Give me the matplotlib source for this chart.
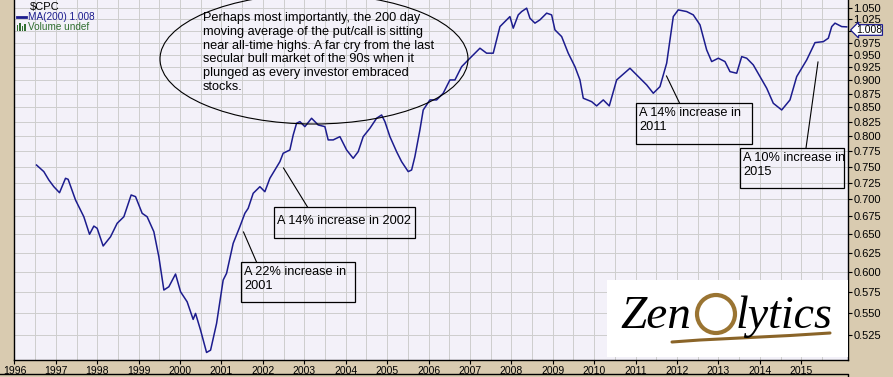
import matplotlib
matplotlib.use("Agg")
import matplotlib.pyplot as plt
from matplotlib.patches import Ellipse, Rectangle
from matplotlib.lines import Line2D
import numpy as np

# ---- data (decimal year, 200-day MA of $CPC) ----
years = [1996.534, 1996.710, 1996.831, 1996.952, 1997.089, 1997.234, 1997.297, 1997.476,
         1997.676, 1997.814, 1997.918, 1997.998, 1998.143, 1998.321, 1998.481, 1998.643,
         1998.819, 1998.925, 1999.085, 1999.205, 1999.367, 1999.488, 1999.609, 1999.729,
         1999.891, 2000.012, 2000.171, 2000.316, 2000.374, 2000.495, 2000.640, 2000.737,
         2000.882, 2001.041, 2001.123, 2001.283, 2001.444, 2001.565, 2001.645, 2001.766,
         2001.928, 2002.048, 2002.169, 2002.411, 2002.490, 2002.652, 2002.732, 2002.814,
         2002.894, 2003.014, 2003.176, 2003.336, 2003.498, 2003.577, 2003.698, 2003.860,
         2004.022, 2004.181, 2004.302, 2004.423, 2004.585, 2004.746, 2004.867, 2004.947,
         2005.068, 2005.229, 2005.350, 2005.510, 2005.592, 2005.671, 2005.792, 2005.872,
         2006.034, 2006.196, 2006.355, 2006.517, 2006.638, 2006.800, 2006.959, 2007.242,
         2007.403, 2007.563, 2007.725, 2007.886, 2007.966, 2008.046, 2008.167, 2008.249,
         2008.370, 2008.449, 2008.570, 2008.691, 2008.853, 2008.973, 2009.053, 2009.215,
         2009.374, 2009.536, 2009.657, 2009.737, 2009.940, 2010.060, 2010.220, 2010.365,
         2010.543, 2010.865, 2011.106, 2011.268, 2011.428, 2011.589, 2011.751, 2011.911,
         2012.031, 2012.234, 2012.394, 2012.556, 2012.717, 2012.838, 2012.998, 2013.159,
         2013.280, 2013.442, 2013.563, 2013.684, 2013.843, 2014.005, 2014.167, 2014.326,
         2014.529, 2014.729, 2014.891, 2015.133, 2015.333, 2015.534, 2015.655, 2015.737,
         2015.816, 2015.978, 2016.099]
ma200 = [0.7524, 0.742, 0.729, 0.7187, 0.7096, 0.7316, 0.730, 0.6987,
         0.6744, 0.6498, 0.6612, 0.6581, 0.6339, 0.6464, 0.6651, 0.6744,
         0.7062, 0.7037, 0.6793, 0.6744, 0.6534, 0.6196, 0.5775, 0.5815,
         0.5974, 0.5754, 0.5633, 0.5427, 0.5496, 0.5305, 0.5060, 0.5085,
         0.5381, 0.5898, 0.5983, 0.6375, 0.6603, 0.6793, 0.6865, 0.7087,
         0.7187, 0.7111, 0.7316, 0.7578, 0.7714, 0.7768, 0.8018, 0.8220,
         0.8248, 0.8161, 0.8307, 0.8190, 0.8161, 0.7935, 0.7935, 0.7990,
         0.7768, 0.7632, 0.7740, 0.7990, 0.8133, 0.8307, 0.8365, 0.8248,
         0.7990, 0.7740, 0.7578, 0.742, 0.7446, 0.7659, 0.8104, 0.8454,
         0.8636, 0.8636, 0.8759, 0.9009, 0.9009, 0.9266, 0.9399, 0.9635,
         0.9534, 0.9534, 1.0086, 1.0231, 1.0302, 1.0052, 1.0339, 1.0412,
         1.0487, 1.0267, 1.0160, 1.0231, 1.0377, 1.0339, 1.0016, 0.9875,
         0.9534, 0.9266, 0.9009, 0.8667, 0.8604, 0.8527, 0.8636, 0.8527,
         0.9009, 0.9235, 0.9042, 0.8915, 0.8759, 0.8882, 0.9334, 1.0302,
         1.0449, 1.0412, 1.0339, 1.0123, 0.9600, 0.9366, 0.9433, 0.9366,
         0.9169, 0.9138, 0.9465, 0.9433, 0.9300, 0.9073, 0.8852, 0.8575,
         0.8454, 0.8636, 0.9073, 0.9399, 0.975, 0.977, 0.9841, 1.0086,
         1.0160, 1.0086, 1.008]

year_ticks = list(range(1996, 2016))
year_labels = [str(y) for y in year_ticks]
y_ticks = [0.525, 0.550, 0.575, 0.600, 0.625, 0.650, 0.675, 0.700, 0.725, 0.750,
           0.775, 0.800, 0.825, 0.850, 0.875, 0.900, 0.925, 0.950, 0.975, 1.000,
           1.025, 1.050]
# 1.000 is hidden behind the last-value tag in the original
y_labels = ["" if abs(v - 1.0) < 1e-9 else "%.3f" % v for v in y_ticks]
last_label = "1.008"

W, H = 893, 377
BG = "#d9cbb0"
PLOT_BG = "#f3f1f9"
LINE = "#1c1c8e"
plt.rcParams['font.family'] = ['Liberation Sans', 'DejaVu Sans']

fig = plt.figure(figsize=(W / 100, H / 100), dpi=100, facecolor=BG)
ax = fig.add_axes([14 / W, 17 / H, (848 - 14) / W, 360 / H])
ax.set_facecolor(PLOT_BG)
ax.set_yscale('log')
ax.set_xlim(1995.99, 2016.13)
ax.set_ylim(0.498, 1.067)

ax.plot(years, ma200, color=LINE, lw=1.1, zorder=3)

ax.set_xticks(year_ticks)
ax.set_xticklabels(year_labels, fontsize=7.5)
ax.set_xticks([y + 0.5 for y in year_ticks], minor=True)
ax.yaxis.set_minor_locator(matplotlib.ticker.NullLocator())
ax.yaxis.set_minor_formatter(matplotlib.ticker.NullFormatter())
ax.set_yticks(y_ticks)
ax.set_yticklabels(y_labels, fontsize=8)
ax.yaxis.tick_right()
ax.tick_params(axis='y', which='major', length=3, width=0.8, pad=1, colors='black')
ax.tick_params(axis='x', which='major', length=3, width=0.8, pad=1)
ax.tick_params(axis='x', which='minor', length=0)
ax.grid(True, which='both', color='#cdcdcd', lw=0.7, zorder=0)
ax.set_axisbelow(True)
for s in ['left', 'bottom', 'right']:
    ax.spines[s].set_color('black')
    ax.spines[s].set_linewidth(1.0)
ax.spines['top'].set_visible(False)

# ---- overlay in pixel coordinates for annotations ----
ov = fig.add_axes([0, 0, 1, 1], facecolor='none')
ov.set_xlim(0, W)
ov.set_ylim(H, 0)
ov.axis('off')

# bottom panel border
ov.add_line(Line2D([0, 848, 848], [373.5, 373.5, 377], color='black', lw=1.0))

# legend
ov.text(30, 7, "$CPC", fontsize=8, color='black', va='center', ha='left')
ov.add_line(Line2D([17, 26], [17, 17], color=LINE, lw=2))
ov.text(28, 17, "MA(200) 1.008", fontsize=7.2, color=LINE, va='center', ha='left')
for bx, bh in [(17.5, 6), (20, 8), (22.5, 5), (25, 7)]:
    ov.add_patch(Rectangle((bx - 0.9, 31 - bh), 1.8, bh, color='#2f6e2f', lw=0))
ov.text(28, 27, "Volume undef", fontsize=7.2, color='#2f6e2f', va='center', ha='left')

# last value tag
ov.text(856, 30, last_label, fontsize=7.5, color='black', va='center', ha='left',
        bbox=dict(boxstyle='larrow,pad=0.03', fc='white', ec=LINE, lw=0.9), zorder=10)

# ellipse with commentary
ov.add_patch(Ellipse((314, 59), 308, 130, fill=False, ec='black', lw=0.8))
ov.text(203, 12, "Perhaps most importantly, the 200 day\n"
                 "moving average of the put/call is sitting\n"
                 "near all-time highs. A far cry from the last\n"
                 "secular bull market of the 90s when it\n"
                 "plunged as every investor embraced\n"
                 "stocks.", fontsize=9.2, va='top', ha='left', linespacing=1.2)

# annotation boxes
def box(x0, y0, x1, y1, text, tx, ty):
    ov.add_patch(Rectangle((x0, y0), x1 - x0, y1 - y0, fill=False, ec='black', lw=0.9))
    ov.text(tx, ty, text, fontsize=9.2, va='top', ha='left', linespacing=1.2)

box(274, 207, 415, 238, "A 14% increase in 2002", 277, 215)
ov.add_line(Line2D([307.5, 283.5], [207, 168], color='black', lw=0.8))

box(241, 262, 355, 302, "A 22% increase in\n2001", 244, 266)
ov.add_line(Line2D([256.5, 243.5], [262, 232], color='black', lw=0.8))

box(636, 103, 752, 144, "A 14% increase in\n2011", 639, 107)
ov.add_line(Line2D([679.5, 666.5], [103, 76], color='black', lw=0.8))

box(740, 148, 844, 188, "A 10% increase in\n2015", 743, 152)
ov.add_line(Line2D([806, 818], [148, 62], color='black', lw=0.8))

# logo
ov.add_patch(Rectangle((607, 280), 241, 77, fc='white', ec='none'))
ov.text(620, 328, "Zen", fontsize=34, family='Liberation Serif', style='italic',
        color='black', va='baseline', ha='left')
ov.add_patch(Ellipse((716, 314), 38, 38, fill=False, ec='#9a7432', lw=3))
ov.text(736, 328, "lytics", fontsize=33, family='Liberation Serif', style='italic',
        color='black', va='baseline', ha='left')
xs = np.array([672, 700, 740, 790, 830])
ys = np.array([342, 340, 338, 335.5, 333])
ov.plot(xs, ys, color='#8a6428', lw=2.2, solid_capstyle='round')

fig.savefig("out.png", dpi=100, facecolor=BG)
